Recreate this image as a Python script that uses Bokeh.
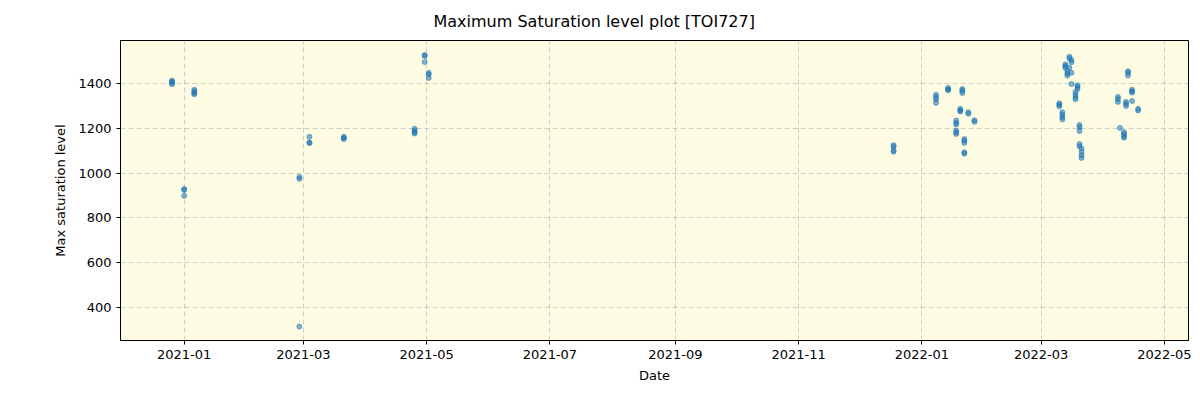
import pandas as pd
from bokeh.plotting import figure
from bokeh.models import ColumnDataSource, FixedTicker, DatetimeTickFormatter, Range1d
from bokeh.embed import file_html
from bokeh.resources import INLINE

# --- data ---
obs_dates = (
    ["2020-12-26"] * 4 + ["2021-01-06"] * 4 + ["2021-01-01"] * 3 + ["2021-02-27"] * 3
    + ["2021-03-04"] * 3 + ["2021-03-21"] * 3 + ["2021-04-25"] * 4 + ["2021-04-30"] * 3
    + ["2021-05-02"] * 3
    + ["2021-12-18"] * 4 + ["2022-01-08"] * 4 + ["2022-01-14"] * 3 + ["2022-01-21"] * 3
    + ["2022-01-18"] * 6 + ["2022-01-20"] * 3 + ["2022-01-22"] * 5 + ["2022-01-24"] * 2
    + ["2022-01-27"] * 2
    + ["2022-03-10"] * 3 + ["2022-03-11T12:00"] * 4 + ["2022-03-13"] * 3 + ["2022-03-14"] * 3
    + ["2022-03-15"] * 3 + ["2022-03-16"] * 4 + ["2022-03-18"] * 4 + ["2022-03-19"] * 3
    + ["2022-03-20"] * 5 + ["2022-03-21"] * 4
    + ["2022-04-08"] * 3 + ["2022-04-09"] + ["2022-04-11"] * 4 + ["2022-04-12"] * 3
    + ["2022-04-13"] * 3 + ["2022-04-15"] * 4 + ["2022-04-18"] * 2
)
max_saturation = (
    [1397, 1403, 1408, 1413] + [1352, 1358, 1365, 1372] + [929, 925, 899] + [983, 975, 315]
    + [1162, 1134, 1137] + [1162, 1157, 1152] + [1198, 1190, 1183, 1177] + [1527, 1523, 1496]
    + [1448, 1440, 1425]
    + [1125, 1118, 1102, 1096] + [1350, 1340, 1330, 1314] + [1380, 1374, 1370] + [1375, 1368, 1358]
    + [1235, 1225, 1217, 1190, 1182, 1175] + [1287, 1280, 1275] + [1152, 1145, 1135, 1093, 1087]
    + [1272, 1265] + [1236, 1229]
    + [1312, 1305, 1298] + [1272, 1262, 1250, 1240] + [1485, 1478, 1470] + [1455, 1445, 1436]
    + [1520, 1512, 1470] + [1505, 1495, 1448, 1398] + [1362, 1350, 1340, 1330] + [1392, 1385, 1376]
    + [1215, 1205, 1188, 1130, 1120] + [1110, 1095, 1080, 1068]
    + [1340, 1330, 1318] + [1202] + [1183, 1175, 1165, 1158] + [1318, 1310, 1300]
    + [1455, 1448, 1436] + [1372, 1365, 1360, 1322] + [1287, 1280]
)
tick_labels = ["2021-01", "2021-03", "2021-05", "2021-07", "2021-09",
               "2021-11", "2022-01", "2022-03", "2022-05"]
y_ticks = [400, 600, 800, 1000, 1200, 1400]

src = ColumnDataSource(dict(date=pd.to_datetime(obs_dates, format="ISO8601"),
                            value=max_saturation))

x_start = pd.Timestamp("2020-11-30 12:00")
x_end = pd.Timestamp("2022-05-12 22:00")

p = figure(width=1200, height=400, x_axis_type="datetime",
           output_backend="svg", toolbar_location=None,
           x_range=Range1d(x_start, x_end), y_range=Range1d(253, 1592),
           min_border_left=120, min_border_right=12, min_border_top=40,
           min_border_bottom=60)

p.title.text = "Maximum Saturation level plot [TOI727]"
p.title.align = "left"
p.title.offset = 313
p.title.text_font = "DejaVu Sans"
p.title.text_font_size = "16px"
p.title.text_font_style = "normal"
p.title.text_color = "black"
if "standoff" in p.title.properties():
    p.title.standoff = 19

p.background_fill_color = "#fdfbe1"
p.border_fill_color = "white"
p.outline_line_color = "black"
p.outline_line_width = 1

p.scatter("date", "value", source=src, size=5, fill_color="#1f77b4",
          fill_alpha=0.55, line_color="#1f77b4", line_alpha=0.55)

tick_ms = [pd.Timestamp(t + "-01").value / 1e6 for t in tick_labels]
p.xaxis.ticker = FixedTicker(ticks=tick_ms)
p.xaxis.formatter = DatetimeTickFormatter(days="%Y-%m", months="%Y-%m", years="%Y-%m")
p.yaxis.ticker = FixedTicker(ticks=y_ticks)

p.xaxis.axis_label = "Date"
p.yaxis.axis_label = "Max saturation level"
for ax in (p.xaxis[0], p.yaxis[0]):
    ax.axis_label_text_font = "DejaVu Sans"
    ax.axis_label_text_font_size = "13px"
    ax.axis_label_text_font_style = "normal"
    ax.axis_label_text_color = "black"
    ax.major_label_text_font = "DejaVu Sans"
    ax.major_label_text_font_size = "13px"
    ax.major_label_text_color = "black"
    ax.axis_line_color = "black"
    ax.major_tick_line_color = "black"
    ax.major_tick_out = 4
    ax.major_tick_in = 0
    ax.minor_tick_line_color = None
p.xaxis.axis_label_standoff = 6
p.yaxis.axis_label_standoff = 7

p.grid.grid_line_color = "#b0b0b0"
p.grid.grid_line_alpha = 0.6
p.grid.grid_line_dash = "5 3"

open("out.html", "w").write(file_html(p, INLINE))
